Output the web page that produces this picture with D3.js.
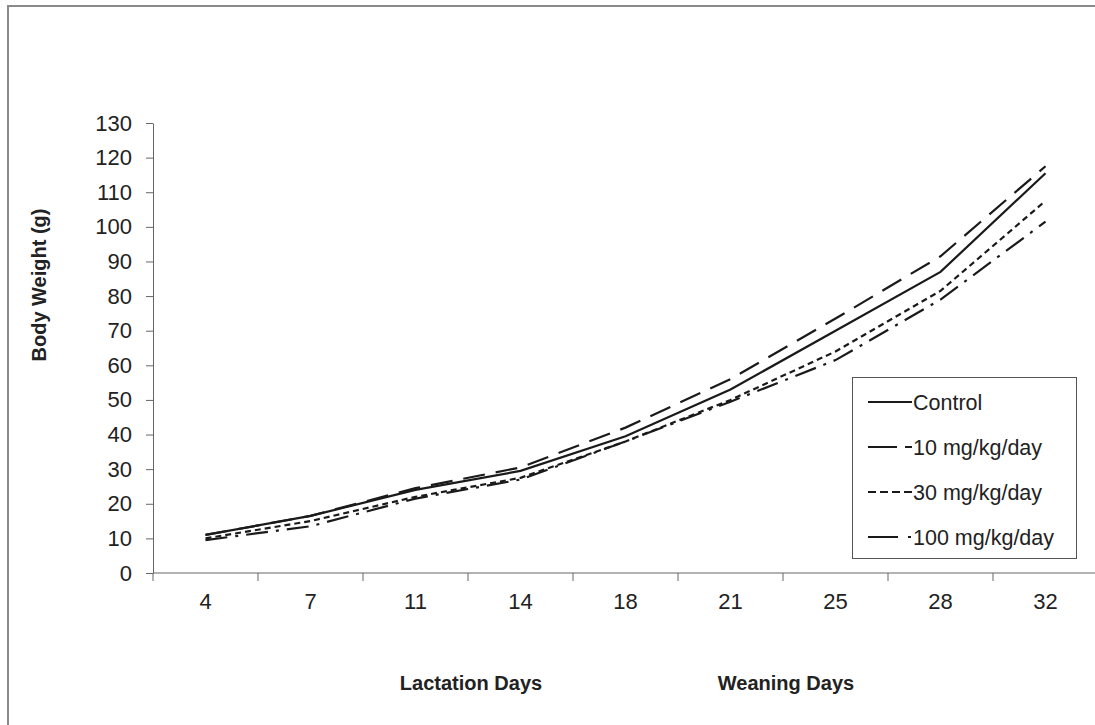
<!DOCTYPE html>
<html>
<head>
<meta charset="utf-8">
<script src="https://cdn.jsdelivr.net/npm/d3@7"></script>
<style>
  html, body { margin: 0; padding: 0; background: #fff; }
  svg { display: block; font-family: Arial, "Liberation Sans", sans-serif; }
</style>
</head>
<body>
<svg id="chart" width="1095" height="725"></svg>
<script>
// Pup body weight (g) by day, four dose groups
const days = ["4", "7", "11", "14", "18", "21", "25", "28", "32"];
const control   = [11, 16.5, 24, 29.5, 39.5, 53, 70, 87, 115.5];
const dose10    = [11, 16.5, 24.5, 30.5, 42, 56, 73.5, 91.5, 117.5];
const dose30    = [10, 15, 22, 27.5, 38, 50, 64, 81.5, 107.5];
const dose100   = [9.5, 13.5, 21.5, 27, 38, 49.5, 61.5, 79, 101.5];
const seriesNames = ["Control", "10 mg/kg/day", "30 mg/kg/day", "100 mg/kg/day"];
const yTicks = d3.range(0, 131, 10);

const series = [
  { name: seriesNames[0], values: control, dash: null,        legendDash: null },
  { name: seriesNames[1], values: dose10,  dash: "22,11",     legendDash: "29,8,8,100" },
  { name: seriesNames[2], values: dose30,  dash: "6,4",       legendDash: "8,4" },
  { name: seriesNames[3], values: dose100, dash: "22,8,3,8",  legendDash: "30,10,3,100" }
];

const svg = d3.select("#chart");
const plotLeft = 153, plotRight = 1098, plotTop = 123, plotBottom = 573;
const ink = "#222";

// outer chart-area border (runs off the right and bottom edges)
svg.append("rect")
  .attr("x", 8).attr("y", 6)
  .attr("width", 1200).attr("height", 800)
  .attr("fill", "none").attr("stroke", "#8a8a8a").attr("stroke-width", 2);

const x = d3.scaleBand().domain(days).range([plotLeft, plotRight]).paddingInner(0).paddingOuter(0);
const y = d3.scaleLinear().domain([0, 130]).range([plotBottom, plotTop]);

// y axis
const yAxis = svg.append("g")
  .attr("transform", `translate(${plotLeft},0)`)
  .call(d3.axisLeft(y).tickValues(yTicks).tickSize(7).tickPadding(14).tickSizeOuter(0));
yAxis.select(".domain").attr("stroke", "#666");
yAxis.selectAll(".tick line").attr("stroke", "#666");
yAxis.selectAll(".tick text").attr("fill", ink).style("font-size", "22px")
  .style("font-family", "Arial, 'Liberation Sans', sans-serif");

// x axis: ticks sit between categories
const xg = svg.append("g").attr("transform", `translate(0,${plotBottom})`);
xg.append("line").attr("x1", plotLeft).attr("x2", plotRight).attr("y1", 0).attr("y2", 0)
  .attr("stroke", "#666");
xg.selectAll("line.tk").data(days).enter().append("line")
  .attr("class", "tk")
  .attr("x1", d => x(d)).attr("x2", d => x(d))
  .attr("y1", 0).attr("y2", 8).attr("stroke", "#666");
xg.selectAll("text").data(days).enter().append("text")
  .attr("x", d => x(d) + x.bandwidth() / 2)
  .attr("y", 36)
  .attr("text-anchor", "middle")
  .attr("fill", ink).style("font-size", "22px")
  .text(d => d);

// series lines
const line = d3.line()
  .x((d, i) => x(days[i]) + x.bandwidth() / 2)
  .y(d => y(d));

svg.append("g").selectAll("path").data(series).enter().append("path")
  .attr("d", d => line(d.values))
  .attr("fill", "none")
  .attr("stroke", "#1a1a1a")
  .attr("stroke-width", 2.2)
  .attr("stroke-dasharray", d => d.dash);

// axis titles
svg.append("text")
  .attr("transform", "translate(46,285) rotate(-90)")
  .attr("text-anchor", "middle")
  .attr("fill", ink)
  .style("font-size", "20px").style("font-weight", "bold")
  .text("Body Weight (g)");

svg.append("text")
  .attr("x", 471).attr("y", 690)
  .attr("text-anchor", "middle")
  .attr("fill", ink)
  .style("font-size", "20px").style("font-weight", "bold")
  .text("Lactation Days");

svg.append("text")
  .attr("x", 786).attr("y", 690)
  .attr("text-anchor", "middle")
  .attr("fill", ink)
  .style("font-size", "20px").style("font-weight", "bold")
  .text("Weaning Days");

// legend
const lg = svg.append("g");
lg.append("rect")
  .attr("x", 852.5).attr("y", 377.5).attr("width", 224).attr("height", 181)
  .attr("fill", "#fff").attr("stroke", "#555").attr("stroke-width", 1);
const rows = lg.selectAll("g.row").data(series).enter().append("g")
  .attr("class", "row")
  .attr("transform", (d, i) => `translate(868,${402 + i * 45})`);
rows.append("line")
  .attr("x1", 0).attr("x2", 44).attr("y1", 0).attr("y2", 0)
  .attr("stroke", "#1a1a1a").attr("stroke-width", 2.2)
  .attr("stroke-dasharray", d => d.legendDash);
rows.append("text")
  .attr("x", 45).attr("y", 0).attr("dy", "0.36em")
  .attr("fill", ink).style("font-size", "21.5px")
  .text(d => d.name);
</script>
</body>
</html>
